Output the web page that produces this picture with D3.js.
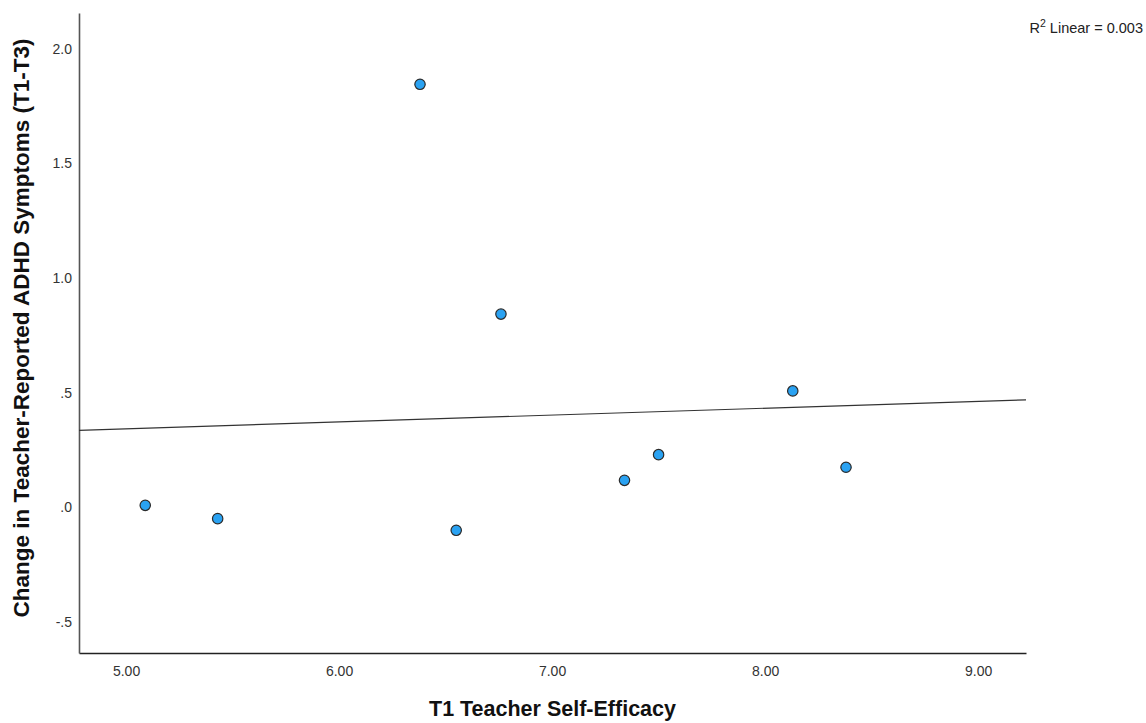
<!DOCTYPE html>
<head>
<style type="text/css">
    body {
      font-family: Arial, "Liberation Sans", sans-serif;
      margin: 0;
      background: #fff;
    }
</style>
</head>
<script src="https://d3js.org/d3.v7.min.js"></script>
<body>
    <svg width="1146" height="723"></svg>
    <script>
        // T1 teacher self-efficacy vs change in ADHD symptoms
        var efficacy = [5.09, 5.43, 6.38, 6.76, 6.55, 7.34, 7.50, 8.13, 8.38],
            change   = [0.006, -0.052, 1.842, 0.840, -0.103, 0.115, 0.227, 0.505, 0.172];

        var xTicks = [5, 6, 7, 8, 9],
            yTicks = [-0.5, 0, 0.5, 1.0, 1.5, 2.0];
        var yTickLabels = ["-.5", ".0", ".5", "1.0", "1.5", "2.0"];

        var r2Label = "Linear = 0.003";

        var width = 1146,
            height = 723,
            margin = {top: 13, right: 120, bottom: 70, left: 79};

        var svg = d3.select("svg");

        var x = d3.scaleLinear()
            .domain([4.779, 9.225])
            .range([margin.left, width - margin.right]);

        var y = d3.scaleLinear()
            .domain([-0.638, 2.153])
            .range([height - margin.bottom, margin.top]);

        // axes
        var xAxis = d3.axisBottom(x)
            .tickValues(xTicks)
            .tickSize(0)
            .tickPadding(13)
            .tickFormat(d3.format(".2f"));

        var yAxis = d3.axisLeft(y)
            .tickValues(yTicks)
            .tickSize(0)
            .tickPadding(7)
            .tickFormat(function(d, i) { return yTickLabels[i]; });

        var gx = svg.append("g")
            .attr("transform", "translate(0," + (height - margin.bottom) + ")")
            .call(xAxis);
        gx.select(".domain").attr("stroke", "#222").attr("stroke-width", 1.6);

        var gy = svg.append("g")
            .attr("transform", "translate(" + margin.left + ",0)")
            .call(yAxis);
        gy.select(".domain").attr("stroke", "#555").attr("stroke-width", 1.6);

        svg.selectAll(".tick text")
            .style("font-family", "Arial, 'Liberation Sans', sans-serif")
            .style("font-size", "14px")
            .attr("fill", "#333");
        gy.selectAll(".tick text").attr("dy", "0.36em");

        // fit line (least squares)
        var mx = d3.mean(efficacy), my = d3.mean(change);
        var sxy = d3.sum(efficacy, function(v, i) { return (v - mx) * (change[i] - my); }),
            sxx = d3.sum(efficacy, function(v) { return (v - mx) * (v - mx); });
        var slope = sxy / sxx,
            intercept = my - slope * mx;

        var xd = x.domain();
        svg.append("line")
            .attr("x1", x(xd[0]))
            .attr("y1", y(intercept + slope * xd[0]))
            .attr("x2", x(xd[1]))
            .attr("y2", y(intercept + slope * xd[1]))
            .attr("stroke", "#333")
            .attr("stroke-width", 1.2);

        // points
        svg.selectAll(".dot")
            .data(efficacy)
            .enter().append("circle")
            .attr("class", "dot")
            .attr("cx", function(d) { return x(d); })
            .attr("cy", function(d, i) { return y(change[i]); })
            .attr("r", 5.2)
            .attr("fill", "#2aa2f2")
            .attr("stroke", "#2a2a2a")
            .attr("stroke-width", 1.2);

        // titles
        svg.append("text")
            .attr("x", (x.range()[0] + x.range()[1]) / 2)
            .attr("y", 716)
            .attr("text-anchor", "middle")
            .style("font-size", "21.5px")
            .style("font-weight", "bold")
            .attr("fill", "#111")
            .text("T1 Teacher Self-Efficacy");

        svg.append("text")
            .attr("transform", "translate(29," + 328 + ")rotate(-90)")
            .attr("text-anchor", "middle")
            .style("font-size", "22.5px")
            .style("font-weight", "bold")
            .attr("fill", "#111")
            .text("Change in Teacher-Reported ADHD Symptoms (T1-T3)");

        var r2 = svg.append("text")
            .attr("x", 1143)
            .attr("y", 33)
            .attr("text-anchor", "end")
            .style("font-size", "14.5px")
            .attr("fill", "#222");
        r2.append("tspan").text("R");
        r2.append("tspan").attr("dy", -6).style("font-size", "10.5px").text("2");
        r2.append("tspan").attr("dy", 6).text(" " + r2Label);
    </script>
</body>
